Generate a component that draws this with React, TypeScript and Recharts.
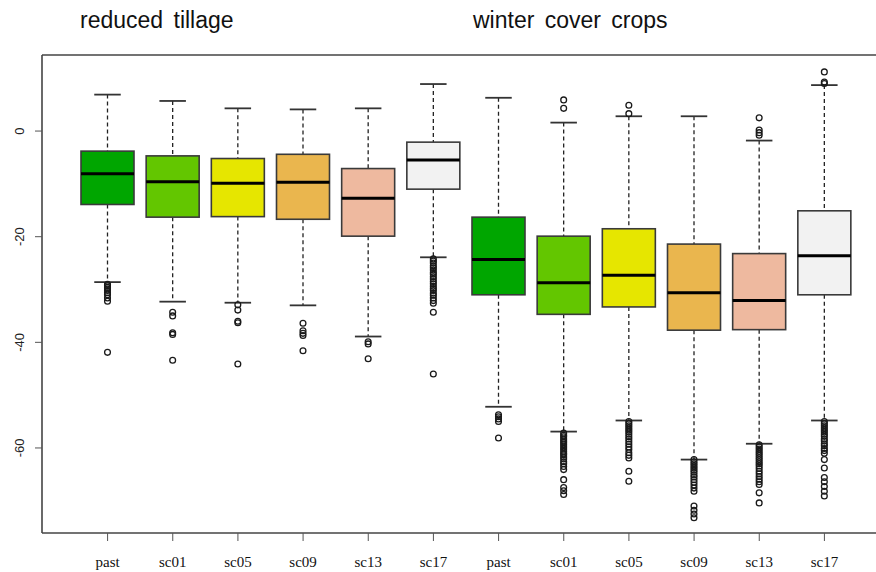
import { Bar, ComposedChart, ReferenceLine, XAxis, YAxis } from "recharts";

const groups = ["reduced tillage", "winter cover crops"];
const scenarios = ["past", "sc01", "sc05", "sc09", "sc13", "sc17"];
const boxColors = ["#00A600", "#63C600", "#E6E600", "#EAB64E", "#EEB99F", "#F2F2F2"];
const yTicks = [0, -20, -40, -60];
const Y_MIN = -76.1;
const Y_MAX = 14.4;

// 12 boxes: reduced tillage past..sc17, then winter cover crops past..sc17
const whiskerHigh = [6.9, 5.7, 4.3, 4.1, 4.3, 8.9, 6.3, 1.6, 2.8, 2.8, -1.8, 8.7];
const upperQuartile = [-3.8, -4.7, -5.2, -4.4, -7.1, -2.1, -16.3, -19.9, -18.5, -21.4, -23.2, -15.1];
const medians = [-8.1, -9.6, -9.9, -9.7, -12.7, -5.5, -24.3, -28.7, -27.3, -30.6, -32.1, -23.6];
const lowerQuartile = [-13.9, -16.3, -16.2, -16.7, -19.9, -11.0, -31.0, -34.7, -33.3, -37.7, -37.6, -31.0];
const whiskerLow = [-28.6, -32.3, -32.5, -33.0, -38.9, -23.9, -52.2, -56.9, -54.8, -62.2, -59.2, -54.8];

const outliers = [
  [-29.0, -29.3, -29.6, -29.9, -30.2, -30.6, -31.0, -31.6, -32.2, -41.9],
  [-34.3, -35.0, -38.2, -38.5, -43.4],
  [-32.9, -33.9, -36.0, -36.3, -44.1],
  [-36.4, -37.8, -38.3, -38.7, -41.6],
  [-39.9, -40.3, -43.1],
  [-24.2, -24.6, -25.0, -25.5, -25.9, -26.3, -26.8, -27.1, -27.6, -28.0, -28.5, -28.9, -29.4, -29.8, -30.2, -30.7,
    -31.1, -31.6, -32.1, -32.6, -34.3, -46.0],
  [-53.7, -54.1, -54.5, -55.0, -58.1],
  [5.9, 4.3, -57.2, -57.6, -57.9, -58.3, -58.7, -59.0, -59.4, -59.8, -60.2, -60.6, -61.0, -61.3, -61.7, -62.1,
    -62.6, -63.0, -63.5, -64.1, -66.0, -67.5, -68.1, -68.8],
  [4.9, 3.3, -55.0, -55.4, -55.8, -56.2, -56.6, -57.0, -57.4, -57.9, -58.3, -58.8, -59.3, -59.8, -60.3, -60.9,
    -61.4, -61.9, -64.4, -66.3],
  [-62.2, -62.6, -63.0, -63.4, -63.8, -64.2, -64.6, -65.1, -65.5, -66.0, -66.5, -67.0, -67.6, -68.2, -71.0,
    -71.8, -72.5, -73.2],
  [2.5, 0.2, -0.3, -0.8, -59.4, -59.8, -60.2, -60.6, -61.0, -61.4, -61.8, -62.2, -62.6, -63.0, -63.4, -63.9,
    -64.4, -64.9, -65.4, -65.9, -66.4, -66.9, -68.5, -70.4],
  [11.2, 9.3, 9.0, -55.0, -55.4, -55.8, -56.2, -56.6, -57.0, -57.4, -57.8, -58.3, -58.7, -59.2, -59.6, -60.1,
    -60.5, -61.0, -62.2, -63.8, -65.6, -66.4, -67.3, -68.2, -69.1],
];

const data = whiskerHigh.map((high, i) => ({
  id: `b${i}`,
  label: scenarios[i % scenarios.length],
  color: boxColors[i % boxColors.length],
  high,
  q3: upperQuartile[i],
  med: medians[i],
  q1: lowerQuartile[i],
  low: whiskerLow[i],
  out: outliers[i],
  range: [whiskerLow[i], high],
}));

const BoxShape = (props: any) => {
  const { x, y, width, height, payload } = props;
  const top = Math.min(y, y + height);
  const bottom = Math.max(y, y + height);
  const ppu = (bottom - top) / (payload.high - payload.low);
  const toY = (v: number) => top + (payload.high - v) * ppu;
  const cx = x + width / 2;
  const cap = width / 4;
  return (
    <g>
      <line x1={cx} x2={cx} y1={toY(payload.high)} y2={toY(payload.q3)} stroke="#222" strokeWidth={1.3} strokeDasharray="4 3" />
      <line x1={cx} x2={cx} y1={toY(payload.q1)} y2={toY(payload.low)} stroke="#222" strokeWidth={1.3} strokeDasharray="4 3" />
      <line x1={cx - cap} x2={cx + cap} y1={toY(payload.high)} y2={toY(payload.high)} stroke="#333" strokeWidth={1.8} />
      <line x1={cx - cap} x2={cx + cap} y1={toY(payload.low)} y2={toY(payload.low)} stroke="#333" strokeWidth={1.8} />
      <rect
        x={x}
        y={toY(payload.q3)}
        width={width}
        height={toY(payload.q1) - toY(payload.q3)}
        fill={payload.color}
        stroke="#3a3a3a"
        strokeWidth={1.6}
      />
      <line x1={x} x2={x + width} y1={toY(payload.med)} y2={toY(payload.med)} stroke="#000" strokeWidth={3} />
      {payload.out.map((v: number, k: number) => (
        <circle key={k} cx={cx} cy={toY(v)} r={2.9} fill="none" stroke="#1a1a1a" strokeWidth={1.3} />
      ))}
    </g>
  );
};

const XTick = ({ x, y, payload }: any) => {
  const d = data[payload.index];
  return (
    <text x={x} y={y + 24} textAnchor="middle" fontFamily="Liberation Serif" fontSize={15} fill="#111">
      {d ? d.label : ""}
    </text>
  );
};

const YTick = ({ y, payload }: any) => (
  <text
    x={24}
    y={y}
    transform={`rotate(-90, 24, ${y})`}
    textAnchor="middle"
    fontFamily="Liberation Sans"
    fontSize={13}
    fill="#222"
  >
    {payload.value}
  </text>
);

const titleStyle = {
  position: "absolute" as const,
  top: 8,
  fontFamily: "Liberation Sans",
  fontSize: 23,
  lineHeight: "24px",
  color: "#111",
  wordSpacing: 4,
};

export default function App() {
  return (
    <div
      style={{
        position: "fixed",
        left: 0,
        top: 0,
        width: 876,
        height: 572,
        overflow: "hidden",
        background: "#fff",
      }}
    >
      <div style={{ ...titleStyle, left: 80 }}>{groups[0]}</div>
      <div style={{ ...titleStyle, left: 473 }}>{groups[1]}</div>
      <ComposedChart width={890} height={572} data={data} margin={{ top: 55, right: 0, bottom: 0, left: 0 }}>
        <XAxis
          dataKey="id"
          type="category"
          interval={0}
          height={39}
          padding={{ left: 33, right: 33 }}
          tickSize={8}
          stroke="#555"
          axisLine={{ stroke: "#444", strokeWidth: 1.6 }}
          tickLine={{ stroke: "#555" }}
          tick={<XTick />}
        />
        <YAxis
          type="number"
          domain={[Y_MIN, Y_MAX]}
          ticks={yTicks}
          width={42}
          tickSize={7}
          allowDataOverflow
          axisLine={{ stroke: "#444", strokeWidth: 1.6 }}
          tickLine={{ stroke: "#555" }}
          tick={<YTick />}
        />
        <ReferenceLine y={Y_MAX} stroke="#444" strokeWidth={1.6} />
        <Bar dataKey="range" barSize={53} isAnimationActive={false} shape={<BoxShape />} />
      </ComposedChart>
    </div>
  );
}
